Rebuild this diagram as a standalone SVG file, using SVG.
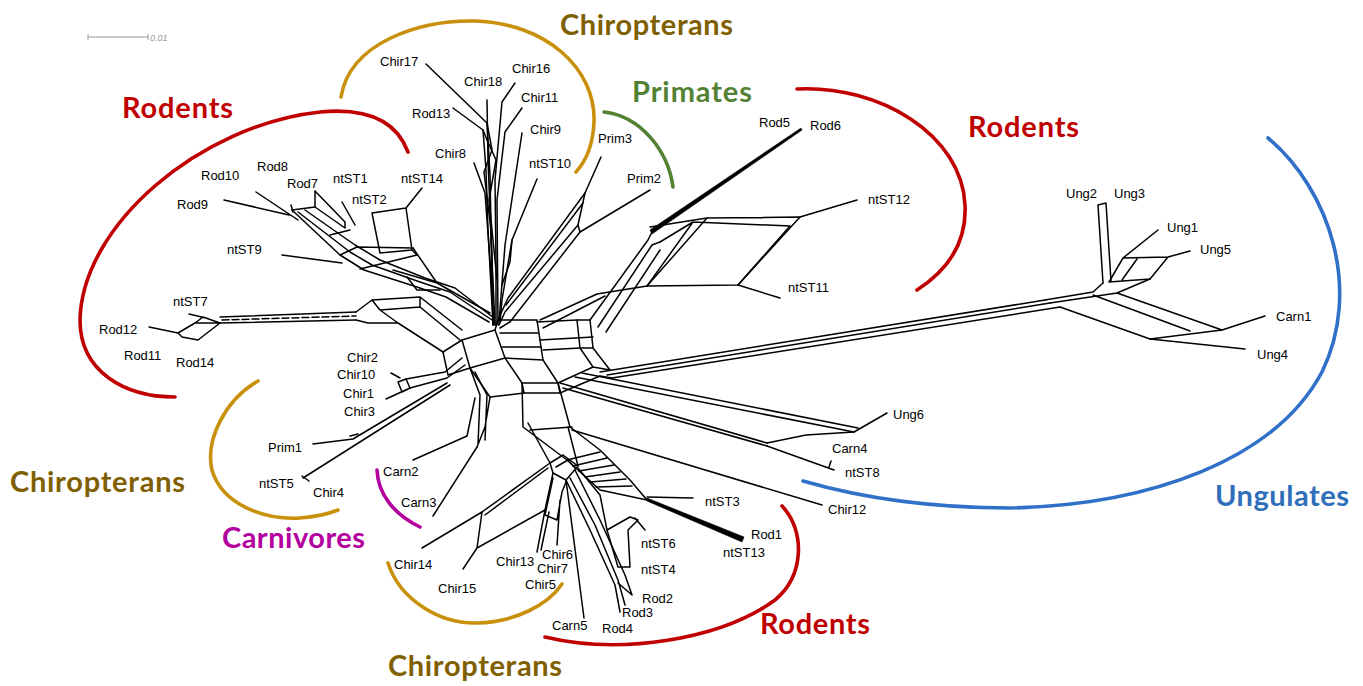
<svg xmlns="http://www.w3.org/2000/svg" width="1363" height="686" viewBox="0 0 1363 686">
<style>
.e{stroke:#000;stroke-width:1.5;fill:none;stroke-linejoin:round;stroke-linecap:round}
.t{font-family:"Liberation Sans",Arial,sans-serif;font-size:13px;fill:#000}
.g{font-family:Lato,"Open Sans",sans-serif;font-weight:700;font-size:29px}
.arc{fill:none;stroke-width:3.6;stroke-linecap:round}
.red{fill:#C00000}.brn{fill:#7F6000}.grn{fill:#548235}.mag{fill:#B4009E}.blu{fill:#2F6EBA}
</style>
<rect width="1363" height="686" fill="#fff"/>

<g id="scale-bar">
<path d="M88,37 H148 M88,34 V40 M148,34 V40" stroke="#999" stroke-width="1" fill="none"/>
<text x="150" y="41" font-family="Liberation Sans,Arial,sans-serif" font-size="9" font-style="italic" fill="#999">0.01</text>
</g>

<g id="group-arcs">
<path class="arc" stroke="#C9900C" d="M341,97 C350,42 420,20 475,21 C545,23 596,68 594,122 C593,145 587,160 576,172"/>
<path class="arc" stroke="#C00000" d="M408,152 C395,117 362,108 320,112 C200,125 82,225 80,320 C80,372 125,397 175,397"/>
<path class="arc" stroke="#C00000" d="M797,89 C880,85 962,135 965,205 C967,245 945,272 917,290"/>
<path class="arc" stroke="#548235" d="M604,112 C640,116 668,150 673,187"/>
<path class="arc" stroke="#3070C8" d="M1268,138 C1330,190 1362,290 1322,372 C1275,460 1150,505 1010,508 C930,508 862,498 803,481"/>
<path class="arc" stroke="#C9900C" d="M258,381 C225,400 205,440 212,470 C222,505 265,520 300,518 C315,517 328,514 338,510"/>
<path class="arc" stroke="#B4009E" d="M377,470 C378,495 395,515 420,527"/>
<path class="arc" stroke="#C9900C" d="M388,563 C400,600 440,624 477,623 C515,622 548,605 562,584"/>
<path class="arc" stroke="#C00000" d="M545,637 C620,655 720,640 775,600 C805,575 805,530 782,506"/>
</g>

<g id="group-labels">
<text class="g brn" x="560" y="35" textLength="173">Chiropterans</text>
<text class="g grn" x="632" y="102" textLength="120">Primates</text>
<text class="g red" x="122" y="118" textLength="111">Rodents</text>
<text class="g red" x="968" y="137" textLength="111">Rodents</text>
<text class="g brn" x="10" y="492" textLength="175">Chiropterans</text>
<text class="g mag" x="222" y="548" textLength="143">Carnivores</text>
<text class="g brn" x="388" y="676" textLength="174">Chiropterans</text>
<text class="g red" x="760" y="634" textLength="110">Rodents</text>
<text class="g blu" x="1215" y="506" textLength="134">Ungulates</text>
</g>

<g id="connectors">
<!-- central core -->
<path class="e" d="M462,340 L495,330 L505,358 L470,368 Z"/>
<path class="e" d="M495,330 L498,320 L537,320 L541,347 L543,360 L558,383 L522,383 L505,358"/>
<path class="e" d="M500,333 L538,333 M502,347 L541,347 M505,358 L543,360"/>
<path class="e" d="M522,383 L524,393 L560,393 L558,383"/>
<path class="e" d="M470,368 L490,397 L524,393"/>
<path class="e" d="M443,352 L462,340 M443,352 L448,375 L470,368"/>
<path class="e" d="M537,322 L577,320 L590,320 M540,340 L593,337 M543,350 L580,348 L593,348"/>
<path class="e" d="M577,320 L580,348 L593,367 M590,320 L593,348 L610,370 M558,383 L593,367 L610,370"/>
<path class="e" d="M560,393 L600,376 L612,378"/>
<!-- Chir bundle -->
<path class="e" d="M426,64 L487,123 L490,175 L493,325"/>
<path class="e" d="M453,108 L483,130 L486,170 L488,230 L493,325"/>
<path class="e" d="M487,100 L488,160 L492,260 L495,325"/>
<path class="e" d="M515,83 L502,102 L495,180 L496,260 L496,325"/>
<path class="e" d="M522,108 L505,132 L497,200 L498,325"/>
<path class="e" d="M474,163 L485,193 L490,260 L494,325"/>
<path class="e" d="M487,123 L492,150 L484,172 L491,230 L493,300"/>
<path class="e" d="M483,130 L487,140 L496,160 L489,200 L497,280"/>
<path class="e" d="M522,133 L505,245 L499,322"/>
<path class="e" d="M537,179 L512,240 L502,300 L500,322"/>
<path class="e" d="M512,240 L510,262 L502,285"/>
<!-- Prim -->
<path class="e" d="M601,157 L585,193 L578,225 L580,232"/>
<path class="e" d="M585,193 L508,298 L497,322"/>
<path class="e" d="M578,225 L505,312 L499,325"/>
<path class="e" d="M580,232 L510,322 L500,328"/>
<path class="e" d="M650,190 L580,232"/>
<path class="e" d="M583,203 L506,305"/>
<!-- Rod5/6, ntST11/12 -->
<polygon points="650,230 801,128 802,130 652,234" fill="#000" stroke="#000" stroke-width="0.6" stroke-linejoin="round"/>
<path class="e" d="M590,320 L648,240 L652,232 M598,327 L652,245 L660,242 M606,332 L660,250"/>
<path class="e" d="M647,286 L738,285 L800,217 L707,218 Z"/>
<path class="e" d="M693,222 L790,226 L738,285 M693,222 L647,286 M650,227 L707,218 M660,242 L693,222"/>
<path class="e" d="M597,294 L647,286 M540,320 L597,294 M543,328 L605,296"/>
<path class="e" d="M800,217 L857,200 M738,285 L780,298"/>
<!-- Ungulate long branch -->
<path class="e" d="M600,372 L1045,300 M607,375 L1050,303 M612,378 L1060,307"/>
<path class="e" d="M1045,300 L1093,292 L1103,283 M1050,303 L1117,293 L1222,330 M1060,307 L1150,339 L1222,330 M1093,295 L1190,331 M1117,293 L1150,279"/>
<path class="e" d="M1103,283 L1098,205 L1106,203 L1111,281"/>
<path class="e" d="M1109,282 L1123,258 L1168,257 L1150,279 Z M1137,259 L1122,280 M1123,258 L1158,230 M1168,257 L1190,251"/>
<path class="e" d="M1222,330 L1265,316 M1150,339 L1245,349"/>
<!-- Ung6 / Carn4 / ntST8 -->
<path class="e" d="M575,377 L854,432 M582,373 L858,428 M560,383 L767,443 M563,388 L767,446"/>
<path class="e" d="M767,443 L806,435 L854,432 L887,413 M767,446 L834,470 M829,467 L831,461"/>
<!-- Chir12 -->
<path class="e" d="M572,430 L822,505"/>
<!-- ntST3 / Rod1 ladder -->
<path class="e" d="M522,383 L523,427 L567,460 L600,490 L647,500"/>
<path class="e" d="M558,383 L570,427 L600,450 L630,480 L647,500"/>
<path class="e" d="M530,430 L572,427 M567,460 L600,452 M573,466 L607,458 M579,471 L614,465 M585,477 L620,472 M590,482 L626,479 M596,487 L632,486"/>
<polygon points="647,498 744,537 742,542 647,501" fill="#000" stroke="#000" stroke-width="0.6" stroke-linejoin="round"/>
<path class="e" d="M647,497 L693,498"/>
<!-- lower cluster -->
<path class="e" d="M528,423 L550,463 M568,427 L578,466"/>
<path class="e" d="M550,463 L563,455 L578,466 L566,480 L553,473 Z M556,467 L568,460 L575,468"/>
<path class="e" d="M550,463 L482,512 L477,548 L545,510 L553,473 M548,468 L485,515"/>
<path class="e" d="M482,512 L422,548 M477,548 L463,569"/>
<path class="e" d="M545,510 L537,552 M549,512 L541,550 M553,478 L545,515 L557,520 L562,492 L566,482 M557,545 L560,500"/>
<path class="e" d="M566,480 L584,618"/>
<path class="e" d="M566,480 L590,530 L615,585 L620,612 M570,478 L595,525 L618,580 L625,605 M575,470 L600,520 L625,575 L632,595 M618,583 L632,595"/>
<path class="e" d="M578,468 L600,495 L607,530 L618,567 L630,567 L628,530 L638,520 L630,517 L607,530 M635,518 L645,530"/>
<!-- Carn2/3 -->
<path class="e" d="M470,368 L480,395 L478,445 M475,372 L487,395 L485,440 M490,397 L485,427 L477,447"/>
<path class="e" d="M467,436 L475,398 M467,436 L413,460 M477,447 L433,516"/>
<!-- Prim1 / ntST5 -->
<path class="e" d="M303,478 L450,385 M302,476 L309,481 M353,439 L447,383 M313,444 L353,439 M350,436 L358,434"/>
<!-- Chir2/10/1/3 -->
<path class="e" d="M391,373 L400,378 M398,382 L402,392 L410,388 L406,379 Z M386,399 L410,388"/>
<path class="e" d="M406,379 L445,372 L462,358 M410,388 L447,378 L465,365"/>
<!-- ntST7 cluster -->
<path class="e" d="M178,333 L195,323 L203,317 L220,323 L198,340 L182,337 Z M195,323 L220,323 M189,314 L206,318 M149,327 L178,333"/>
<path class="e" d="M220,317 L356,312 M220,323 L356,320"/>
<path class="e" d="M222,320 L356,316" stroke-dasharray="7 3"/>
<path class="e" d="M356,312 L372,300 L420,297 L462,330 M356,320 L368,323 L398,323 L443,352 M372,300 L380,310 L398,323 M380,310 L420,307 L460,340 M420,297 L420,307"/>
<!-- Rod cluster -->
<path class="e" d="M256,192 L298,220 M224,200 L289,215 M291,205 L293,212"/>
<path class="e" d="M315,191 L315,207 L345,228 M315,191 L345,222 L345,228 M342,202 L355,225"/>
<path class="e" d="M372,213 L406,208 L412,250 L380,253 L372,213 M406,208 L422,188"/>
<path class="e" d="M282,255 L342,263"/>
<path class="e" d="M292,210 L340,255 L364,270 L417,287 L446,297 L489,322"/>
<path class="e" d="M298,212 L350,252 L372,265 L420,282 L450,292 L492,320"/>
<path class="e" d="M305,210 L355,245 L380,260 L425,278 L455,288 L494,318"/>
<path class="e" d="M292,210 L315,207 M330,235 L350,230 M340,255 L357,247 L413,248 M360,269 L417,255 L412,250"/>
<path class="e" d="M413,248 L437,283 L490,313 M393,270 L437,283 M407,277 L417,290 L440,290"/>
</g>

<g id="taxa" class="t">
<g id="n-Chir17"><text class="t" x="380" y="66">Chir17</text></g>
<g id="n-Chir18"><text class="t" x="464" y="86">Chir18</text></g>
<g id="n-Chir16"><text class="t" x="512" y="73">Chir16</text></g>
<g id="n-Chir11"><text class="t" x="521" y="102">Chir11</text></g>
<g id="n-Rod13"><text class="t" x="412" y="118">Rod13</text></g>
<g id="n-Chir9"><text class="t" x="530" y="134">Chir9</text></g>
<g id="n-Chir8"><text class="t" x="435" y="158">Chir8</text></g>
<g id="n-ntST10"><text class="t" x="529" y="168">ntST10</text></g>
<g id="n-Prim3"><text class="t" x="598" y="143">Prim3</text></g>
<g id="n-Prim2"><text class="t" x="627" y="183">Prim2</text></g>
<g id="n-Rod5"><text class="t" x="759" y="127">Rod5</text></g>
<g id="n-Rod6"><text class="t" x="810" y="130">Rod6</text></g>
<g id="n-ntST12"><text class="t" x="868" y="204">ntST12</text></g>
<g id="n-ntST11"><text class="t" x="788" y="292">ntST11</text></g>
<g id="n-Rod10"><text class="t" x="201" y="180">Rod10</text></g>
<g id="n-Rod8"><text class="t" x="257" y="171">Rod8</text></g>
<g id="n-Rod7"><text class="t" x="287" y="188">Rod7</text></g>
<g id="n-ntST1"><text class="t" x="333" y="183">ntST1</text></g>
<g id="n-ntST2"><text class="t" x="352" y="204">ntST2</text></g>
<g id="n-ntST14"><text class="t" x="401" y="183">ntST14</text></g>
<g id="n-Rod9"><text class="t" x="177" y="209">Rod9</text></g>
<g id="n-ntST9"><text class="t" x="227" y="254">ntST9</text></g>
<g id="n-ntST7"><text class="t" x="173" y="306">ntST7</text></g>
<g id="n-Rod12"><text class="t" x="99" y="334">Rod12</text></g>
<g id="n-Rod11"><text class="t" x="124" y="360">Rod11</text></g>
<g id="n-Rod14"><text class="t" x="176" y="367">Rod14</text></g>
<g id="n-Chir2"><text class="t" x="347" y="362">Chir2</text></g>
<g id="n-Chir10"><text class="t" x="337" y="379">Chir10</text></g>
<g id="n-Chir1"><text class="t" x="343" y="398">Chir1</text></g>
<g id="n-Chir3"><text class="t" x="344" y="416">Chir3</text></g>
<g id="n-Prim1"><text class="t" x="268" y="452">Prim1</text></g>
<g id="n-ntST5"><text class="t" x="259" y="488">ntST5</text></g>
<g id="n-Chir4"><text class="t" x="313" y="497">Chir4</text></g>
<g id="n-Carn2"><text class="t" x="383" y="476">Carn2</text></g>
<g id="n-Carn3"><text class="t" x="401" y="507">Carn3</text></g>
<g id="n-Chir14"><text class="t" x="394" y="569">Chir14</text></g>
<g id="n-Chir15"><text class="t" x="438" y="593">Chir15</text></g>
<g id="n-Chir13"><text class="t" x="496" y="566">Chir13</text></g>
<g id="n-Chir6"><text class="t" x="542" y="559">Chir6</text></g>
<g id="n-Chir7"><text class="t" x="537" y="573">Chir7</text></g>
<g id="n-Chir5"><text class="t" x="525" y="589">Chir5</text></g>
<g id="n-Carn5"><text class="t" x="552" y="630">Carn5</text></g>
<g id="n-Rod4"><text class="t" x="602" y="633">Rod4</text></g>
<g id="n-Rod3"><text class="t" x="622" y="617">Rod3</text></g>
<g id="n-Rod2"><text class="t" x="642" y="603">Rod2</text></g>
<g id="n-ntST4"><text class="t" x="641" y="574">ntST4</text></g>
<g id="n-ntST6"><text class="t" x="641" y="548">ntST6</text></g>
<g id="n-ntST3"><text class="t" x="705" y="506">ntST3</text></g>
<g id="n-Rod1"><text class="t" x="751" y="539">Rod1</text></g>
<g id="n-ntST13"><text class="t" x="723" y="557">ntST13</text></g>
<g id="n-Chir12"><text class="t" x="828" y="514">Chir12</text></g>
<g id="n-ntST8"><text class="t" x="845" y="477">ntST8</text></g>
<g id="n-Carn4"><text class="t" x="832" y="453">Carn4</text></g>
<g id="n-Ung6"><text class="t" x="893" y="419">Ung6</text></g>
<g id="n-Ung2"><text class="t" x="1066" y="198">Ung2</text></g>
<g id="n-Ung3"><text class="t" x="1114" y="198">Ung3</text></g>
<g id="n-Ung1"><text class="t" x="1167" y="232">Ung1</text></g>
<g id="n-Ung5"><text class="t" x="1200" y="254">Ung5</text></g>
<g id="n-Carn1"><text class="t" x="1276" y="321">Carn1</text></g>
<g id="n-Ung4"><text class="t" x="1257" y="359">Ung4</text></g>
</g>
</svg>
